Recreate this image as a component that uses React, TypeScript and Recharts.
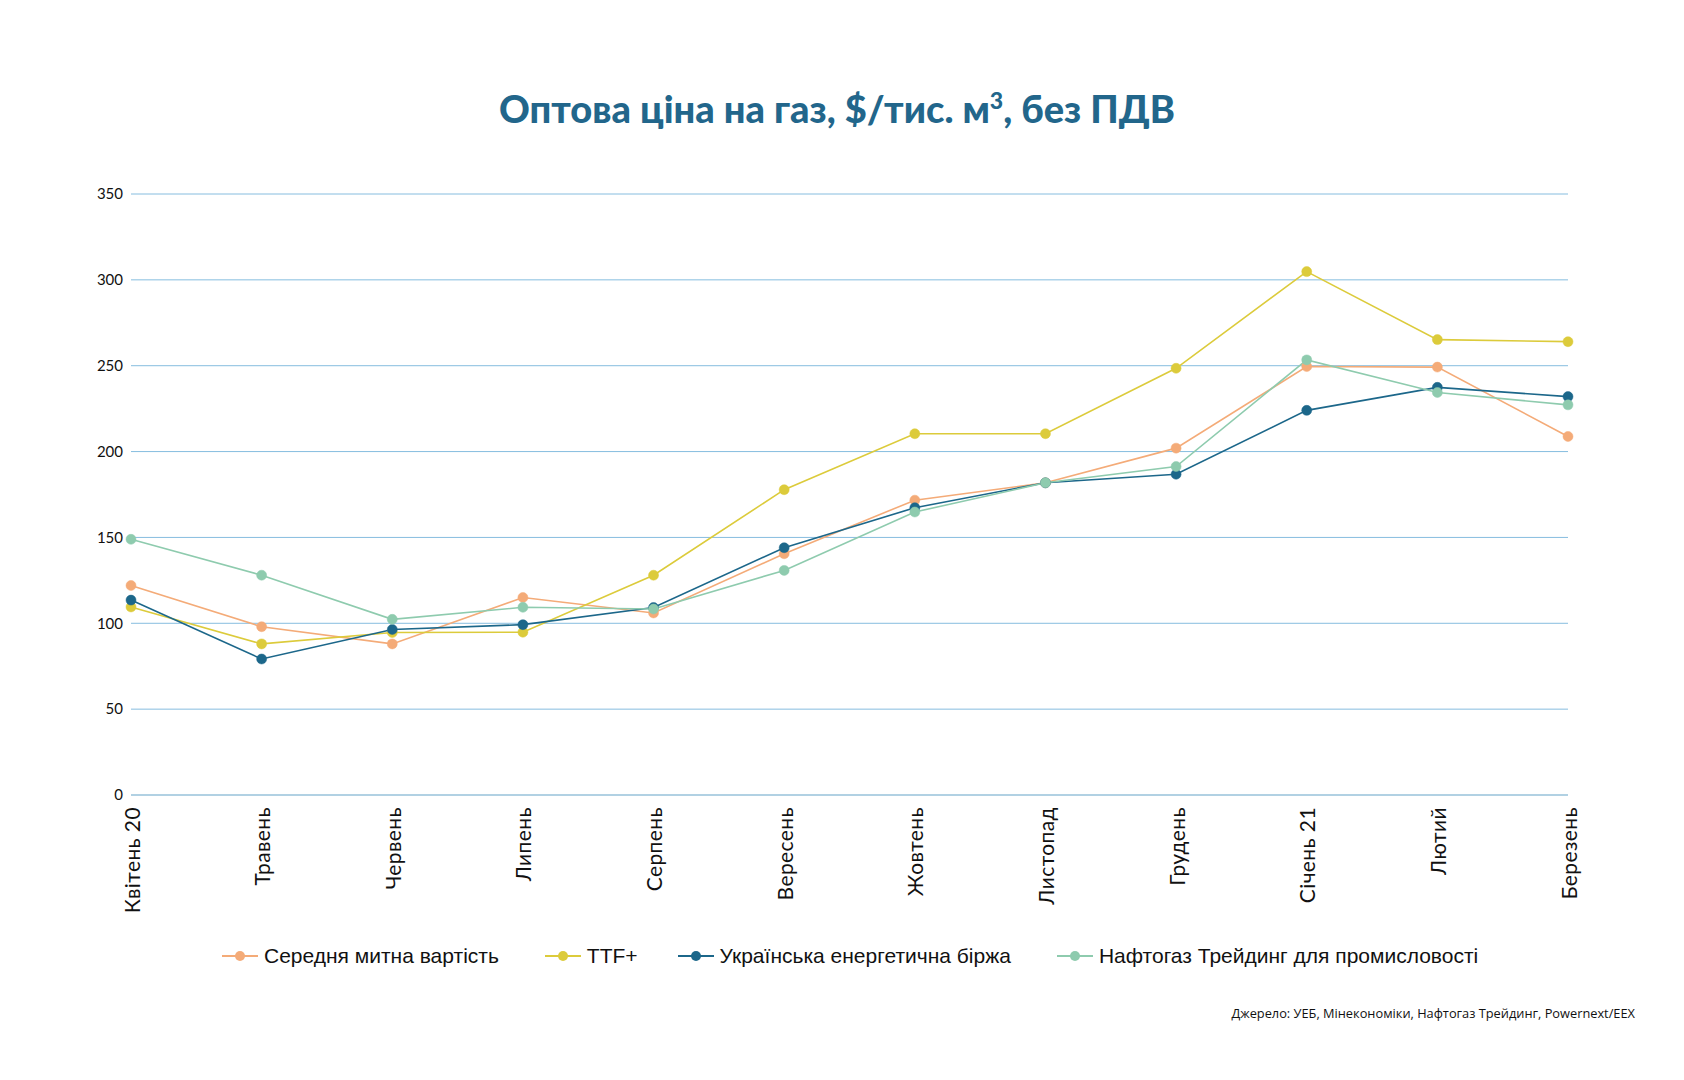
import React from 'react';
import { LineChart, Line, XAxis, YAxis, CartesianGrid } from 'recharts';

// Months, April 2020 – March 2021
const months = ['Квітень 20', 'Травень', 'Червень', 'Липень', 'Серпень', 'Вересень', 'Жовтень', 'Листопад', 'Грудень', 'Січень 21', 'Лютий', 'Березень'];

// Wholesale gas prices, $ per thousand m³, excl. VAT
const customsValue = [122, 98, 88, 115, 106, 140.5, 171.7, 181.8, 202, 249.5, 249.2, 208.8];
const ttfPlus = [109.5, 88, 94.6, 94.8, 128, 177.8, 210.4, 210.4, 248.5, 304.8, 265.2, 264];
const uebExchange = [113.5, 79.2, 96.4, 99.2, 109.2, 144, 167.3, 181.8, 186.8, 224, 237.4, 232];
const naftogazIndustry = [148.9, 128, 102.3, 109.3, 108.3, 130.8, 164.8, 181.8, 191.3, 253.4, 234.4, 227.2];

const yTicks = [0, 50, 100, 150, 200, 250, 300, 350];

const series = [
  { key: 'customs', name: 'Середня митна вартість', color: '#f4ab78', values: customsValue },
  { key: 'ttf', name: 'TTF+', color: '#dccb3b', values: ttfPlus },
  { key: 'ueb', name: 'Українська енергетична біржа', color: '#1c678a', values: uebExchange },
  { key: 'naftogaz', name: 'Нафтогаз Трейдинг для промисловості', color: '#8ecbae', values: naftogazIndustry },
];

const data = months.map((m, i) => {
  const row: Record<string, string | number> = { month: m };
  series.forEach((s) => {
    row[s.key] = s.values[i];
  });
  return row;
});

const tickFont = "'Lato', 'Open Sans', sans-serif";

const MonthTick = (props: any) => {
  const { x, y, payload } = props;
  return (
    <text
      x={x}
      y={y}
      transform={`rotate(-90, ${x}, ${y})`}
      textAnchor="end"
      dominantBaseline="central"
      fontFamily={tickFont}
      fontSize={21}
      fill="#111"
      letterSpacing={0.4}
    >
      {payload.value}
    </text>
  );
};

const LegendIcon = ({ color }: { color: string }) => (
  <svg width={36} height={12} style={{ marginRight: 6 }}>
    <line x1={0} y1={6} x2={36} y2={6} stroke={color} strokeWidth={2} />
    <circle cx={18} cy={6} r={5} fill={color} />
  </svg>
);

export default function App() {
  return (
    <div style={{ position: 'absolute', left: 0, top: 0, width: 1684, height: 1080, background: '#fff', overflow: 'hidden' }}>
      <div
        style={{
          position: 'absolute',
          left: 0,
          top: 84,
          width: 1674,
          textAlign: 'center',
          fontFamily: "'Lato', 'Open Sans', sans-serif",
          fontWeight: 900,
          fontSize: 38,
          lineHeight: '48px',
          color: '#22668b',
        }}
      >
        Оптова ціна на газ, $/тис. м<sup style={{ fontSize: 23, lineHeight: 0, verticalAlign: 'super' }}>3</sup>, без ПДВ
      </div>

      <div style={{ position: 'absolute', left: 0, top: 0 }}>
        <LineChart width={1684} height={928} data={data} margin={{ top: 194, right: 116, left: 0, bottom: 0 }}>
          <CartesianGrid vertical={false} stroke="#86bddf" strokeWidth={1} />
          <XAxis
            dataKey="month"
            interval={0}
            height={133}
            tick={<MonthTick />}
            tickLine={false}
            axisLine={{ stroke: '#9fc3d8', strokeWidth: 1.2 }}
            tickMargin={6}
            padding={{ left: 0, right: 0 }}
          />
          <YAxis
            width={131}
            domain={[0, 350]}
            ticks={yTicks}
            axisLine={false}
            tickLine={false}
            tick={{ fontFamily: tickFont, fontSize: 15, fill: '#111' }}
          />
          {series.map((s) => (
            <Line
              key={s.key}
              type="linear"
              dataKey={s.key}
              name={s.name}
              stroke={s.color}
              strokeWidth={1.6}
              dot={{ r: 5, fill: s.color, stroke: s.color, strokeWidth: 0.5 }}
              activeDot={false}
              isAnimationActive={false}
            />
          ))}
        </LineChart>
      </div>

      <div
        style={{
          position: 'absolute',
          left: 222,
          top: 944,
          display: 'flex',
          alignItems: 'center',
          fontFamily: "'Liberation Sans', Arial, sans-serif",
          fontSize: 21,
          color: '#111',
          whiteSpace: 'nowrap',
        }}
      >
        {series.map((s, i) => (
          <div key={s.key} style={{ display: 'flex', alignItems: 'center', marginRight: i < series.length - 1 ? (i === 1 ? 40 : 46) : 0 }}>
            <LegendIcon color={s.color} />
            <span>{s.name}</span>
          </div>
        ))}
      </div>

      <div
        style={{
          position: 'absolute',
          right: 1684 - 1635,
          top: 1004,
          fontFamily: "'Open Sans', 'Noto Sans', sans-serif",
          fontSize: 12.8,
          color: '#111',
          whiteSpace: 'nowrap',
        }}
      >
        Джерело: УЕБ, Мінекономіки, Нафтогаз Трейдинг, Powernext/EEX
      </div>
    </div>
  );
}
